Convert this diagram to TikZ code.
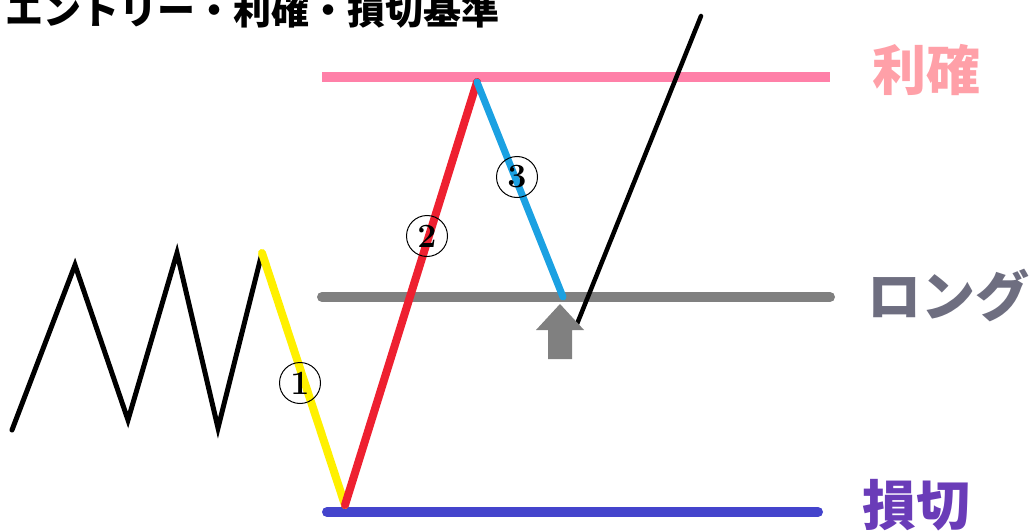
\documentclass[tikz,border=0pt]{standalone}
\usepackage{fontspec}
\newfontfamily\jp{Noto Sans CJK JP}
\begin{document}
\begin{tikzpicture}[x=1pt,y=-1pt,
  level/.style={line width=10pt,line cap=round},
  leg/.style={line width=8pt,line cap=round},
  zig/.style={line width=5pt,line cap=round,line join=miter},
  lbl/.style={font=\jp\bfseries\fontsize{54}{54}\selectfont,anchor=west,inner sep=0pt},
  circnum/.style={draw,circle,line width=1pt,minimum size=41pt,inner sep=0pt,font=\bfseries\fontsize{34}{34}\selectfont}]
\definecolor{tpline}{HTML}{FF80A8}
\definecolor{tptext}{HTML}{FFA0A8}
\definecolor{lgline}{HTML}{808080}
\definecolor{lgtext}{HTML}{6E6E80}
\definecolor{slline}{HTML}{4444CC}
\definecolor{sltext}{HTML}{6A3CB8}
\definecolor{yel}{HTML}{FFF000}
\definecolor{redl}{HTML}{EE2030}
\definecolor{cyanl}{HTML}{1BA1E2}
\useasboundingbox (0,0) rectangle (1036,532);
% title
\node[font=\jp\bfseries\fontsize{38}{38}\selectfont,anchor=west,inner sep=0pt] (title) at (5,10) {エントリー・利確・損切基準};
% level lines
\coordinate (tpA) at (322,77); \coordinate (tpB) at (830,77);
\coordinate (lgA) at (322,297); \coordinate (lgB) at (830,297);
\coordinate (slA) at (327,512); \coordinate (slB) at (818,512);
\draw[level,tpline,line cap=butt] (tpA) -- (tpB);
\draw[level,lgline] (lgA) -- (lgB);
\draw[level,slline] (slA) -- (slB);
\node[lbl,text=tptext] (tp) at (872,70) {利確};
\node[lbl,text=lgtext] (lg) at (867,295) {ロング};
\node[lbl,text=sltext] (sl) at (862,505) {損切};
% zigzag
\coordinate (z0) at (12,430);
\coordinate (z1) at (75,265);
\coordinate (z2) at (128,420);
\coordinate (z3) at (177,253);
\coordinate (z4) at (218,428);
\coordinate (z5) at (262,253);
\draw[zig] (z0) -- (z1) -- (z2) -- (z3) -- (z4) -- (z5);
\coordinate (low) at (345,505);
\coordinate (peak) at (477,82);
\coordinate (ent) at (563,297);
\draw[leg,yel] (z5) -- (low);
\draw[leg,redl] (low) -- (peak);
\draw[leg,cyanl,line width=7pt] (peak) -- (ent);
% black rally
\coordinate (r0) at (577,324);
\coordinate (r1) at (701,16);
\draw[line width=4.5pt,line cap=round] (r0) -- (r1);
% entry arrow
\fill[lgline] (560,304) -- (584,330) -- (572,330) -- (572,359) -- (548,359) -- (548,330) -- (536,330) -- cycle;
% circled numbers
\node[circnum] (c1) at (300,383) {1};
\node[circnum] (c2) at (427,236) {2};
\node[circnum] (c3) at (517,177) {3};
\end{tikzpicture}
\end{document}
